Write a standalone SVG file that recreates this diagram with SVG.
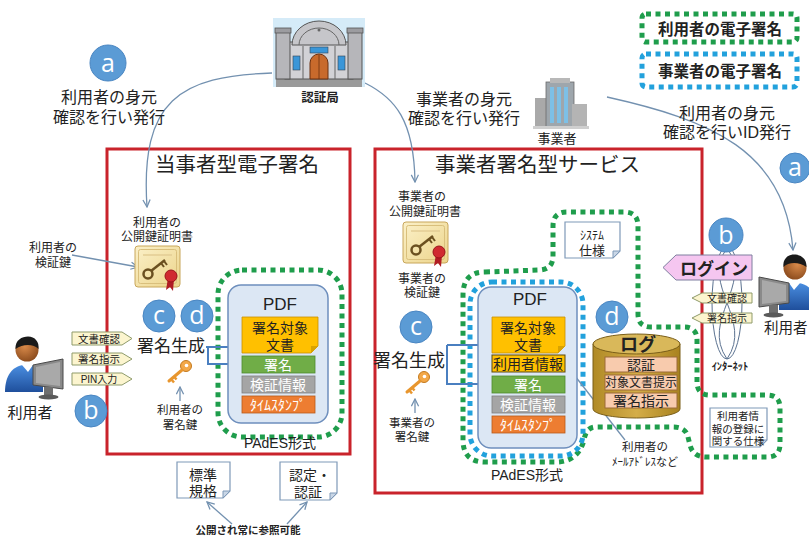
<svg xmlns="http://www.w3.org/2000/svg" width="809" height="538" viewBox="0 0 809 538">
<defs>
<style>
text{font-family:"Liberation Sans","Noto Sans CJK JP",sans-serif;fill:#222}
.c{text-anchor:middle}
.b{font-weight:bold}
.frame{fill:none;stroke:#c9232b;stroke-width:3}
.grn{fill:none;stroke:#1f9d4c;stroke-width:5;stroke-dasharray:5 4.5}
.blu{fill:none;stroke:#22a1dc;stroke-width:5;stroke-dasharray:5 4.5}
.badge circle{fill:#5b9bd5;stroke:#4a86c2;stroke-width:1}
.badge text{fill:#fff;font-size:25px;text-anchor:middle;font-family:"Open Sans","Noto Sans",sans-serif}
.flow{fill:none;stroke:#7391b0;stroke-width:1.3}
.tag{fill:#fcf5cf;stroke:#8f9b6b;stroke-width:1}
.note{fill:#fff;stroke:#7f99b8;stroke-width:1.2}
.fold{fill:#c9d6e6;stroke:#7f99b8;stroke-width:1}
.pdf{fill:#dce7f4;stroke:#6e8fbd;stroke-width:1.5}
.link{fill:none;stroke:#4a7fc0;stroke-width:2}
.row{fill:#f8cbad;stroke:#9c6b38;stroke-width:1}
.wt{fill:#fff}
</style>
<marker id="open" viewBox="0 0 10 10" refX="9" refY="5" markerWidth="9" markerHeight="9" orient="auto" markerUnits="userSpaceOnUse">
<path d="M1 1 L9 5 L1 9" fill="none" stroke="#7391b0" stroke-width="1.4"/>
</marker>
<marker id="solid" viewBox="0 0 10 10" refX="9" refY="5" markerWidth="9" markerHeight="9" orient="auto" markerUnits="userSpaceOnUse">
<path d="M0 1 L10 5 L0 9 Z" fill="#4a7fc0"/>
</marker>
<radialGradient id="skin" cx="0.4" cy="0.35" r="0.7">
<stop offset="0" stop-color="#d98a4a"/><stop offset="1" stop-color="#8a4a1c"/>
</radialGradient>
<linearGradient id="shirt" x1="0" y1="0" x2="0" y2="1">
<stop offset="0" stop-color="#4a8ee0"/><stop offset="1" stop-color="#1f4f9c"/>
</linearGradient>
<linearGradient id="paper" x1="0" y1="0" x2="1" y2="1">
<stop offset="0" stop-color="#fbf0c8"/><stop offset="1" stop-color="#ecd48a"/>
</linearGradient>
<linearGradient id="drum" x1="0" y1="0" x2="1" y2="0">
<stop offset="0" stop-color="#b08a26"/><stop offset="0.5" stop-color="#d4ad48"/><stop offset="1" stop-color="#a8821f"/>
</linearGradient>
<!-- person at a desktop monitor; head centred on the origin -->
<g id="person">
<path d="M-22 42 C-22 26 -15 16 -3 15 L7 15 C13 16 16 22 16 30 L16 42 Z" fill="url(#shirt)"/>
<path d="M-5 15 L1 22 L6 15 Z" fill="#fff"/>
<circle cx="0" cy="0" r="11.5" fill="url(#skin)"/>
<path d="M-11.5 -1 C-12 -10 -5 -13.5 1 -13.5 C8 -13.5 12.5 -8 11.5 -1 C7 -6 -4 -6.5 -11.5 -1 Z" fill="#1a1a1a"/>
<polygon points="6,15 36,9 36,39 6,35" fill="#8a8a8a" stroke="#4a4a4a" stroke-width="1"/>
<polygon points="9,17 33,12 33,36 9,33" fill="#a9a9a9"/>
<rect x="17" y="37" width="9" height="9" fill="#6f6f6f"/>
<ellipse cx="21.5" cy="47" rx="10" ry="2.5" fill="#5a5a5a"/>
</g>
<!-- certificate with key and ribbon -->
<g id="cert">
<rect x="0" y="0" width="45" height="41" rx="3" fill="url(#paper)" stroke="#c8a65a" stroke-width="1"/>
<rect x="3.5" y="3.5" width="38" height="34" rx="2" fill="none" stroke="#d9bf7c" stroke-width="1"/>
<line x1="8" y1="9" x2="37" y2="9" stroke="#e3cd94" stroke-width="1.5"/>
<circle cx="13" cy="28" r="4.5" fill="none" stroke="#6b5020" stroke-width="2.5"/>
<line x1="16" y1="25" x2="30" y2="14" stroke="#6b5020" stroke-width="2.5"/>
<line x1="26" y1="17" x2="29" y2="21" stroke="#6b5020" stroke-width="2"/>
<line x1="29" y1="15" x2="32" y2="19" stroke="#6b5020" stroke-width="2"/>
<path d="M33 32 L31 44 L35 41 L38 45 L39 33 Z" fill="#b01c24"/>
<circle cx="36" cy="30" r="6" fill="#d02a30" stroke="#9a141a" stroke-width="1"/>
</g>
<!-- orange signing key -->
<g id="key">
<circle cx="20" cy="5" r="5.5" fill="#f3a848" stroke="#c47a1e" stroke-width="1"/>
<circle cx="20.5" cy="4.5" r="1.8" fill="#fff"/>
<line x1="16" y1="9" x2="3" y2="20" stroke="#e8962e" stroke-width="3" stroke-linecap="round"/>
<line x1="5" y1="18" x2="8" y2="21.5" stroke="#e8962e" stroke-width="2.5"/>
<line x1="8" y1="15.5" x2="10.5" y2="18.5" stroke="#e8962e" stroke-width="2.5"/>
</g>
</defs>

<rect width="809" height="538" fill="#fff"/>

<!-- legend -->
<g id="legend-user">
<rect class="grn" x="642" y="14" width="155" height="28" rx="4"/>
<text class="c b" x="720" y="35" font-size="15.5">利用者の電子署名</text>
</g>
<g id="legend-provider">
<rect class="blu" x="642" y="54" width="155" height="33" rx="4"/>
<text class="c b" x="720" y="77" font-size="15.5">事業者の電子署名</text>
</g>

<!-- service frames -->
<g id="frame-party">
<rect class="frame" x="107" y="149" width="243" height="305"/>
<text x="155" y="172" font-size="20.5">当事者型電子署名</text>
</g>
<g id="frame-service">
<rect class="frame" x="375" y="149" width="327" height="344"/>
<text x="435" y="172" font-size="20.5">事業者署名型サービス</text>
</g>

<!-- dotted scopes -->
<g id="scope-user-left"><rect class="grn" x="218" y="270" width="124" height="167" rx="24"/></g>
<g id="scope-user-right">
<path class="grn" d="M485 272 L540 270 Q553 269 553 256 L553 226 Q553 212 567 212 L624 212 Q638 212 638 226 L638 314 Q638 327 651 327 L684 327 Q697 327 697 340 L697 382 Q697 395 710 395 L767 395 Q780 395 780 408 L780 444 Q780 457 767 457 L706 457 Q693 457 690 445 L688 437 Q686 427 673 427 L596 427 Q586 427 584 440 Q578 462 556 462 L485 462 Q463 462 463 440 L463 295 Q463 272 485 272 Z"/>
</g>
<g id="scope-provider"><rect class="blu" x="470" y="282" width="113" height="174" rx="22"/></g>

<!-- connectors -->
<g id="connectors">
<path class="flow" d="M272 73 C180 76 140 100 147 207" marker-end="url(#open)"/>
<path class="flow" d="M365 83 C395 98 414 120 415 182" marker-end="url(#open)"/>
<path class="flow" d="M607 97 C710 120 785 150 793 250" marker-end="url(#open)"/>
<path class="flow" d="M72 255 L138 267" marker-end="url(#open)"/>
<path class="flow" d="M625 440 L568 367" marker-end="url(#open)"/>
<path class="flow" d="M180 401 L180 387" marker-end="url(#open)"/>
<path class="flow" d="M415 413 L415 399" marker-end="url(#open)"/>
<path class="flow" d="M232 524 L207 502" marker-end="url(#open)"/>
<path class="flow" d="M287 524 L307 502" marker-end="url(#open)"/>
<path class="link" d="M243 318 H238 V352 H243"/>
<path class="link" d="M206 347 H238"/>
<path class="link" d="M208 347 V364 H241" marker-end="url(#solid)"/>
<path class="link" d="M489 318 H484 V371 H489"/>
<path class="link" d="M447 345 H484"/>
<path class="link" d="M447 345 V384 H491" marker-end="url(#solid)"/>
</g>

<!-- certification authority -->
<g id="ca">
<rect x="273" y="18" width="92" height="69" fill="#d5ebf8"/>
<rect x="276" y="78" width="86" height="9" fill="#9a9a9a"/>
<rect x="285" y="42" width="68" height="37" fill="#d2d2d6" stroke="#555" stroke-width="1"/>
<path d="M292 45 A27 24 0 0 1 346 45 Z" fill="#c6c6ca" stroke="#555" stroke-width="1"/>
<path d="M299 45 A20 17 0 0 1 339 45" fill="none" stroke="#666" stroke-width="1"/>
<circle cx="319" cy="30" r="1.5" fill="#666"/>
<rect x="276" y="32" width="14" height="47" fill="#b6b6ba" stroke="#555" stroke-width="1"/>
<rect x="348" y="32" width="14" height="47" fill="#b6b6ba" stroke="#555" stroke-width="1"/>
<rect x="275" y="28" width="16" height="5" fill="#9c9ca0" stroke="#555" stroke-width="0.8"/>
<rect x="347" y="28" width="16" height="5" fill="#9c9ca0" stroke="#555" stroke-width="0.8"/>
<line x1="303" y1="46" x2="303" y2="79" stroke="#666"/>
<line x1="335" y1="46" x2="335" y2="79" stroke="#666"/>
<rect x="293" y="56" width="7" height="14" fill="#3a96d8" stroke="#345" stroke-width="0.6"/>
<rect x="338" y="56" width="7" height="14" fill="#3a96d8" stroke="#345" stroke-width="0.6"/>
<rect x="310" y="47" width="18" height="6" fill="#3a96d8" stroke="#345" stroke-width="0.6"/>
<path d="M310 79 V63 A9 9 0 0 1 328 63 V79 Z" fill="#c86a2c" stroke="#6a3010" stroke-width="1"/>
<line x1="319" y1="55" x2="319" y2="79" stroke="#6a3010" stroke-width="0.8"/>
<text class="c b" x="320" y="102" font-size="12.5" fill="#333">認証局</text>
</g>

<!-- service provider -->
<g id="provider">
<rect x="535" y="98" width="14" height="30" fill="#a9a9a9"/>
<rect x="546" y="82" width="28" height="46" fill="#9ea6ac" stroke="#6a6a6a" stroke-width="0.8"/>
<rect x="550" y="78" width="20" height="5" fill="#b8b8b8"/>
<rect x="550" y="87" width="4" height="36" fill="#7dc0e6"/>
<rect x="557" y="87" width="4" height="36" fill="#7dc0e6"/>
<rect x="564" y="87" width="4" height="36" fill="#7dc0e6"/>
<rect x="572" y="104" width="15" height="24" fill="#b4b4b4"/>
<rect x="533" y="126" width="56" height="3" fill="#cfcfcf"/>
<text class="c" x="557" y="143" font-size="13">事業者</text>
</g>

<!-- issuance captions -->
<g id="issue-user">
<g class="badge"><circle cx="108" cy="63" r="18"/><text x="108" y="72">a</text></g>
<text class="c" font-size="16"><tspan x="109" y="103">利用者の身元</tspan><tspan x="109" y="123">確認を行い発行</tspan></text>
</g>
<g id="issue-provider">
<text class="c" font-size="16"><tspan x="464" y="105">事業者の身元</tspan><tspan x="464" y="124">確認を行い発行</tspan></text>
</g>
<g id="issue-id">
<text class="c" font-size="16"><tspan x="727" y="119">利用者の身元</tspan><tspan x="727" y="138">確認を行いID発行</tspan></text>
<g class="badge"><circle cx="795" cy="168" r="15"/><text x="795" y="176" font-size="22">a</text></g>
</g>

<!-- left: party-type signature -->
<g id="user-left">
<use href="#person" transform="translate(27,350)"/>
<text class="c" x="30" y="418" font-size="15">利用者</text>
<g class="badge"><circle cx="91" cy="411" r="16"/><text x="91" y="419" font-size="22">b</text></g>
</g>
<g id="user-steps">
<path class="tag" d="M72 332 H122 L132 338.5 L122 345 H72 Z"/>
<text class="c" x="99" y="343" font-size="10.5">文書確認</text>
<path class="tag" d="M72 353 H122 L132 359 L122 365 H72 Z"/>
<text class="c" x="99" y="363" font-size="10.5">署名指示</text>
<path class="tag" d="M72 373 H122 L132 379 L122 385 H72 Z"/>
<text class="c" x="99" y="383" font-size="10">PIN入力</text>
</g>
<g id="cert-user">
<text class="c" font-size="12"><tspan x="157" y="227">利用者の</tspan><tspan x="157" y="241">公開鍵証明書</tspan></text>
<use href="#cert" transform="translate(135,246)"/>
<text class="c" font-size="12"><tspan x="53" y="252">利用者の</tspan><tspan x="53" y="267">検証鍵</tspan></text>
</g>
<g id="sign-left">
<g class="badge"><circle cx="159" cy="316" r="16"/><text x="159" y="324" font-size="22">c</text></g>
<g class="badge"><circle cx="197" cy="316" r="16"/><text x="197" y="324" font-size="22">d</text></g>
<text x="205" y="352" font-size="17" text-anchor="end">署名生成</text>
<use href="#key" transform="translate(166,361)"/>
<text class="c" font-size="11.5"><tspan x="180" y="414">利用者の</tspan><tspan x="180" y="429">署名鍵</tspan></text>
</g>
<g id="pdf-left">
<rect class="pdf" x="228" y="285" width="100" height="138" rx="13"/>
<text class="c" x="280" y="310" font-size="17">PDF</text>
<path d="M242 317 H318 V346 L311 353 H242 Z" fill="#ffc000" stroke="#c89000" stroke-width="0.8"/>
<path d="M318 346 L311 346 L311 353 Z" fill="#d9a300"/>
<text class="c" font-size="14"><tspan x="280" y="333">署名対象</tspan><tspan x="280" y="350">文書</tspan></text>
<rect x="242" y="356" width="73" height="17" fill="#70ad47" stroke="#4e8a2e" stroke-width="0.8"/>
<text class="c wt" x="278" y="370" font-size="14">署名</text>
<rect x="242" y="376" width="73" height="17" fill="#a5a5a5" stroke="#7f7f7f" stroke-width="0.8"/>
<text class="c wt" x="278" y="390" font-size="14">検証情報</text>
<rect x="242" y="396" width="73" height="17" fill="#ed7d31" stroke="#b85a1a" stroke-width="0.8"/>
<text class="c wt" x="278" y="410" font-size="14">ﾀｲﾑｽﾀﾝﾌﾟ</text>
<text class="c" x="280" y="448" font-size="14">PAdES形式</text>
</g>
<g id="refs">
<path class="note" d="M177 462 H230 V491 L223 498 H177 Z"/>
<path class="fold" d="M230 491 L223 491 L223 498 Z"/>
<text class="c" font-size="14"><tspan x="203" y="480">標準</tspan><tspan x="203" y="496">規格</tspan></text>
<path class="note" d="M280 462 H337 V493 L330 500 H280 Z"/>
<path class="fold" d="M337 493 L330 493 L330 500 Z"/>
<text class="c" font-size="14"><tspan x="310" y="480">認定・</tspan><tspan x="308" y="497">認証</tspan></text>
<text class="c b" x="248" y="534" font-size="10.5">公開され常に参照可能</text>
</g>

<!-- right: provider-signed service -->
<g id="cert-provider">
<text class="c" font-size="12"><tspan x="422" y="201">事業者の</tspan><tspan x="425" y="216">公開鍵証明書</tspan></text>
<use href="#cert" transform="translate(403,222)"/>
<text class="c" font-size="12"><tspan x="422" y="283">事業者の</tspan><tspan x="422" y="297">検証鍵</tspan></text>
</g>
<g id="sign-right">
<g class="badge"><circle cx="416" cy="327" r="16"/><text x="416" y="335" font-size="22">c</text></g>
<text x="373" y="367" font-size="18">署名生成</text>
<use href="#key" transform="translate(404,372)"/>
<text class="c" font-size="11.5"><tspan x="412" y="427">事業者の</tspan><tspan x="412" y="441">署名鍵</tspan></text>
</g>
<g id="pdf-right">
<rect class="pdf" x="478" y="287" width="99" height="161" rx="13"/>
<text class="c" x="530" y="305" font-size="17">PDF</text>
<path d="M492 317 H565 V346 L558 353 H492 Z" fill="#ffc000" stroke="#c89000" stroke-width="0.8"/>
<path d="M565 346 L558 346 L558 353 Z" fill="#d9a300"/>
<text class="c" font-size="14"><tspan x="528" y="333">署名対象</tspan><tspan x="528" y="350">文書</tspan></text>
<rect x="492" y="355" width="73" height="17" fill="#ffc000" stroke="#5a4a10" stroke-width="1"/>
<text class="c" x="528" y="369" font-size="14">利用者情報</text>
<rect x="492" y="376" width="73" height="17" fill="#70ad47" stroke="#4e8a2e" stroke-width="0.8"/>
<text class="c wt" x="528" y="390" font-size="14">署名</text>
<rect x="492" y="396" width="73" height="17" fill="#a5a5a5" stroke="#7f7f7f" stroke-width="0.8"/>
<text class="c wt" x="528" y="410" font-size="14">検証情報</text>
<rect x="492" y="416" width="73" height="17" fill="#ed7d31" stroke="#b85a1a" stroke-width="0.8"/>
<text class="c wt" x="528" y="430" font-size="14">ﾀｲﾑｽﾀﾝﾌﾟ</text>
<text class="c" x="527" y="480" font-size="14">PAdES形式</text>
</g>
<g id="sys-spec">
<path class="note" d="M565 222 H620 V251 L613 258 H565 Z"/>
<path class="fold" d="M620 251 L613 251 L613 258 Z"/>
<text class="c"><tspan x="592" y="240" font-size="12">ｼｽﾃﾑ</tspan><tspan x="592" y="255" font-size="13">仕様</tspan></text>
</g>
<g id="log">
<path d="M593 344 V409 A43.5 9 0 0 0 680 409 V344 Z" fill="url(#drum)" stroke="#7a5e18" stroke-width="1"/>
<ellipse cx="636.5" cy="344" rx="43.5" ry="10" fill="#d9b85a" stroke="#7a5e18" stroke-width="1"/>
<text class="c b" x="638" y="351" font-size="18" fill="#111">ログ</text>
<rect class="row" x="605" y="357" width="72" height="15"/>
<text class="c" x="641" y="370" font-size="14">認証</text>
<rect class="row" x="605" y="375" width="72" height="15"/>
<text class="c" x="641" y="387" font-size="12">対象文書提示</text>
<rect class="row" x="605" y="393" width="72" height="15"/>
<text class="c" x="641" y="406" font-size="14">署名指示</text>
<g class="badge"><circle cx="612" cy="317" r="16"/><text x="612" y="325" font-size="22">d</text></g>
</g>
<g id="mail-note">
<text class="c"><tspan x="645" y="451" font-size="11.5">利用者の</tspan><tspan x="645" y="466" font-size="11">ﾒｰﾙｱﾄﾞﾚｽなど</tspan></text>
</g>
<g id="reg-spec">
<path class="note" d="M710 408 H767 V440 L760 447 H710 Z"/>
<path class="fold" d="M767 440 L760 440 L760 447 Z"/>
<text class="c" font-size="10.5"><tspan x="738" y="420">利用者情</tspan><tspan x="738" y="433">報の登録に</tspan><tspan x="738" y="445">関する仕様</tspan></text>
</g>

<!-- internet and remote user -->
<g id="internet">
<ellipse cx="727" cy="303" rx="15" ry="56" fill="none" stroke="#5b7290" stroke-width="1"/>
<path d="M727 248 C700 285 754 320 727 359" fill="none" stroke="#5b7290" stroke-width="1"/>
<path d="M727 248 C754 285 700 320 727 359" fill="none" stroke="#5b7290" stroke-width="1"/>
<text class="c b" x="730" y="370" font-size="10.5">ｲﾝﾀｰﾈｯﾄ</text>
</g>
<g id="login">
<g class="badge"><circle cx="726" cy="235" r="17"/><text x="726" y="244" font-size="24">b</text></g>
<path d="M663 267.5 L676 255 H752 V280 H676 Z" fill="#f5c6f0" stroke="#7f7f9f" stroke-width="1"/>
<text class="c b" x="714" y="275" font-size="17" fill="#111">ログイン</text>
<path class="tag" d="M692 298 L702 293 H752 V303 H702 Z"/>
<text class="c" x="727" y="302" font-size="10">文書確認</text>
<path class="tag" d="M692 318 L702 313 H752 V323 H702 Z"/>
<text class="c" x="727" y="322" font-size="10">署名指示</text>
</g>
<g id="user-right">
<use href="#person" transform="translate(795,268) scale(-1,1)"/>
<text x="764" y="333" font-size="14.5">利用者</text>
</g>
</svg>
